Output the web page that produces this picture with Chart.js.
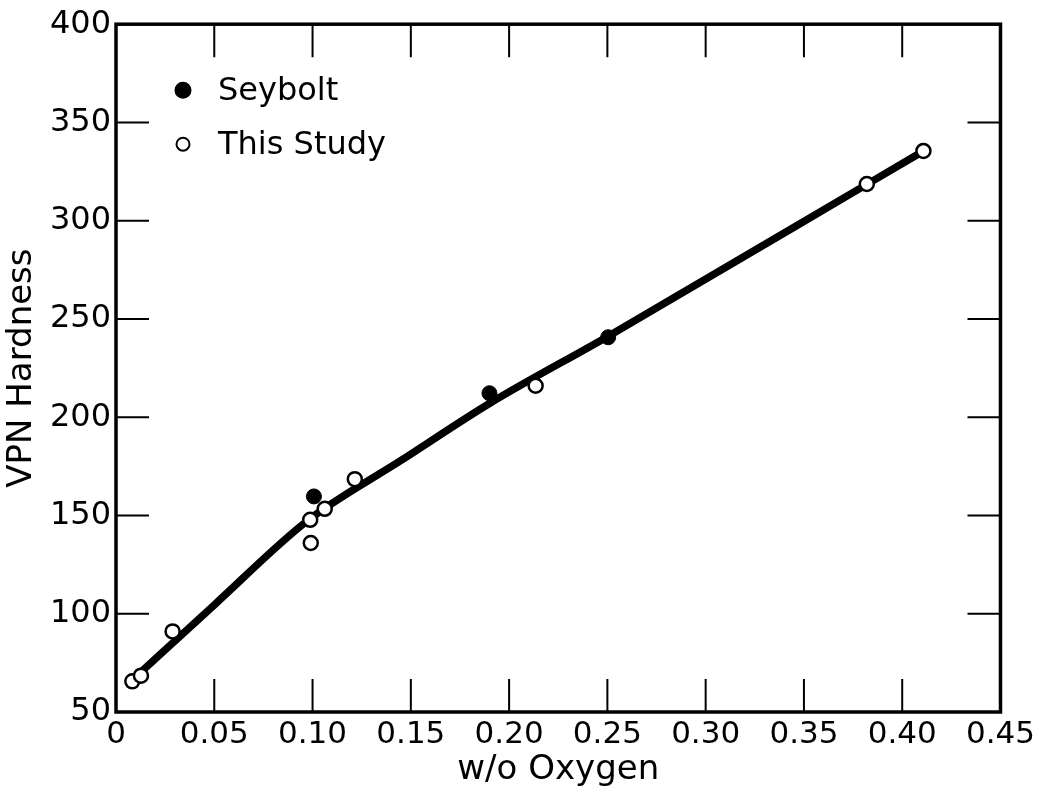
<!DOCTYPE html>
<html>
<head>
<meta charset="utf-8">
<script src="https://cdn.jsdelivr.net/npm/chart.js@4.4.1/dist/chart.umd.min.js"></script>
<style>
  body { margin: 0; background: #fff; }
  #wrap { width: 1039px; height: 791px; }
</style>
</head>
<body>
<div id="wrap"><canvas id="myChart" width="1039" height="791"></canvas></div>
<script>
// hodnoty
let seyboltX = [0.1007, 0.190, 0.2504];
let seyboltY = [159.7, 212.2, 240.7];

let studyX = [0.0083, 0.0127, 0.0288, 0.0988, 0.0991, 0.1062, 0.1215, 0.2135, 0.382, 0.4108];
let studyY = [65.6, 68.5, 91, 147.8, 136, 153.4, 168.5, 216, 318.7, 335.5];

let curveX = [0.008, 0.05, 0.097, 0.145, 0.19, 0.25, 0.382, 0.41];
let curveY = [66, 104.5, 147, 178, 207, 241, 318.5, 335];

let xTicks = [0, 0.05, 0.10, 0.15, 0.20, 0.25, 0.30, 0.35, 0.40, 0.45];
let yTicks = [50, 100, 150, 200, 250, 300, 350, 400];

const FONT = 'DejaVu Sans';

function toPoints(xs, ys) {
    return xs.map((x, i) => ({ x: x, y: ys[i] }));
}

// ramecek a carky dovnitr
const frameTicks = {
    id: 'frameTicks',
    beforeDatasetsDraw(chart) {
        const ctx = chart.ctx;
        const a = chart.chartArea;
        const xs = chart.scales.x;
        const ys = chart.scales.y;
        const len = 33;
        ctx.save();
        ctx.strokeStyle = '#000';
        ctx.lineWidth = 2;
        ctx.beginPath();
        xTicks.slice(1, -1).forEach(v => {
            const px = xs.getPixelForValue(v);
            ctx.moveTo(px, a.bottom); ctx.lineTo(px, a.bottom - len);
            ctx.moveTo(px, a.top); ctx.lineTo(px, a.top + len);
        });
        yTicks.slice(1, -1).forEach(v => {
            const py = ys.getPixelForValue(v);
            ctx.moveTo(a.left, py); ctx.lineTo(a.left + len, py);
            ctx.moveTo(a.right, py); ctx.lineTo(a.right - len, py);
        });
        ctx.stroke();
        ctx.lineWidth = 3.5;
        ctx.strokeRect(a.left, a.top, a.right - a.left, a.bottom - a.top);
        ctx.restore();
    },
    afterDraw(chart) {
        // legenda uvnitr grafu
        const ctx = chart.ctx;
        const a = chart.chartArea;
        const items = [chart.data.datasets[0], chart.data.datasets[1]];
        ctx.save();
        ctx.font = '32px "' + FONT + '"';
        ctx.textBaseline = 'middle';
        ctx.fillStyle = '#000';
        items.forEach((ds, i) => {
            const cx = a.left + 67;
            const cy = a.top + 66 + i * 54;
            ctx.beginPath();
            ctx.arc(cx, cy, i === 0 ? 7.5 : 6.5, 0, Math.PI * 2);
            ctx.fillStyle = ds.backgroundColor;
            ctx.fill();
            ctx.lineWidth = 2;
            ctx.strokeStyle = '#000';
            ctx.stroke();
            ctx.fillStyle = '#000';
            ctx.fillText(ds.label, a.left + 102, cy + 1);
        });
        ctx.restore();
    }
};

let ctx = document.getElementById('myChart').getContext('2d');
let myChart = new Chart(ctx, {
    type: 'scatter',
    data: {
        datasets: [{
            label: 'Seybolt',
            data: toPoints(seyboltX, seyboltY),
            backgroundColor: '#000',
            borderColor: '#000',
            borderWidth: 1,
            pointRadius: 7.5,
            order: 1
        }, {
            label: 'This Study',
            data: toPoints(studyX, studyY),
            backgroundColor: '#fff',
            borderColor: '#000',
            borderWidth: 2.5,
            pointRadius: 7,
            order: 1
        }, {
            type: 'line',
            label: 'krivka',
            data: toPoints(curveX, curveY),
            borderColor: '#000',
            borderWidth: 7.5,
            pointRadius: 0,
            cubicInterpolationMode: 'monotone',
            fill: false,
            order: 2
        }]
    },
    options: {
        responsive: false,
        animation: false,
        layout: { padding: { top: 22, right: 36, left: 0, bottom: 0 } },
        plugins: {
            legend: { display: false },
            tooltip: { enabled: false }
        },
        scales: {
            x: {
                type: 'linear',
                min: 0,
                max: 0.45,
                afterBuildTicks: s => { s.ticks = xTicks.map(v => ({ value: v })); },
                afterFit: s => { s.height = 79; },
                grid: { display: false, drawTicks: false },
                border: { display: false },
                ticks: {
                    color: '#000',
                    font: { family: FONT, size: 31 },
                    padding: 4,
                    maxRotation: 0,
                    autoSkip: false,
                    callback: v => v === 0 ? '0' : v.toFixed(2)
                },
                title: {
                    display: true,
                    text: 'w/o Oxygen',
                    color: '#000',
                    font: { family: FONT, size: 34 },
                    padding: { top: 0, bottom: 0 }
                }
            },
            y: {
                min: 50,
                max: 400,
                afterBuildTicks: s => { s.ticks = yTicks.map(v => ({ value: v })); },
                afterFit: s => { s.width = 116; },
                grid: { display: false, drawTicks: false },
                border: { display: false },
                ticks: {
                    color: '#000',
                    font: { family: FONT, size: 32 },
                    padding: 5
                },
                title: {
                    display: true,
                    text: 'VPN Hardness',
                    color: '#000',
                    font: { family: FONT, size: 34 },
                    padding: { top: 2, bottom: 0 }
                }
            }
        }
    },
    plugins: [frameTicks]
});
</script>
</body>
</html>
